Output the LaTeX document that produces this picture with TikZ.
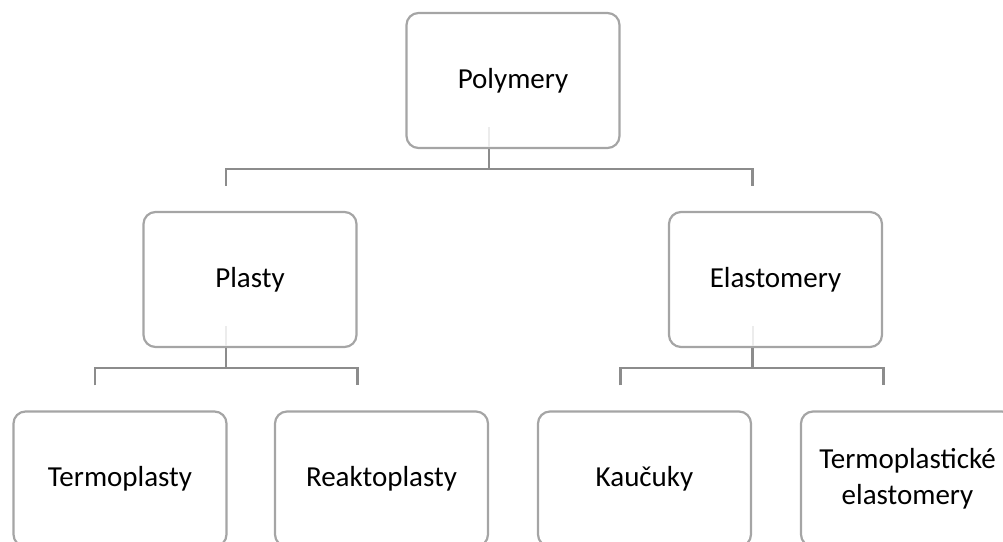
\documentclass[tikz,border=0pt]{standalone}
\usepackage{fontspec}
\setmainfont{Carlito}
\definecolor{boxline}{RGB}{165,165,165}
\definecolor{connline}{RGB}{140,140,140}
\definecolor{faintline}{RGB}{236,236,236}
\tikzset{
  box/.style={draw=boxline, line width=2.2pt, rounded corners=12pt, minimum width=213pt, minimum height=135pt, align=center, font=\fontsize{29}{36}\selectfont, inner sep=0pt},
  conn/.style={draw=connline, line width=2.6pt},
  faint/.style={draw=faintline, line width=2pt}
}
\begin{document}
\begin{tikzpicture}[x=1pt,y=1pt]
\useasboundingbox (0,0) rectangle (1003,-541);
\clip (0,0) rectangle (1003,-541);
\node[box] (poly) at (513,-80.5) {Polymery};
\node[box] (plasty) at (250,-279.5) {Plasty};
\node[box] (elast) at (775.5,-279.5) {Elastomery};
\node[box] (termo) at (120,-479) {Termoplasty};
\node[box] (reakto) at (381.5,-479) {Reaktoplasty};
\node[box] (kauc) at (644.5,-479) {Kaučuky};
\node[box] (tpe) at (907.5,-479) {Termoplastické\\elastomery};
% faint inner lines
\draw[faint] ([xshift=-24pt,yshift=2.5pt]poly.south) -- ++(0,20);
\draw[faint] ([xshift=-24pt,yshift=2.5pt]plasty.south) -- ++(0,20);
\draw[faint] ([xshift=-23pt,yshift=2.5pt]elast.south) -- ++(0,20);
% connectors
\coordinate (polyhub) at ([xshift=-24pt,yshift=-20pt]poly.south);
\draw[conn] ([xshift=-24pt]poly.south) -- (polyhub);
\draw[conn] ([xshift=-24pt,yshift=25pt]plasty.north) |- (polyhub) -| ([xshift=-23pt,yshift=25pt]elast.north);
\coordinate (plastyhub) at ([xshift=-24pt,yshift=-20pt]plasty.south);
\draw[conn] ([xshift=-24pt]plasty.south) -- (plastyhub);
\draw[conn] ([xshift=-25pt,yshift=25pt]termo.north) |- (plastyhub) -| ([xshift=-24pt,yshift=25pt]reakto.north);
\coordinate (elasthub) at ([xshift=-23pt,yshift=-20pt]elast.south);
\draw[conn] ([xshift=-23pt]elast.south) -- (elasthub);
\draw[conn] ([xshift=-24pt,yshift=25pt]kauc.north) |- (elasthub) -| ([xshift=-24pt,yshift=25pt]tpe.north);
\end{tikzpicture}
\end{document}
